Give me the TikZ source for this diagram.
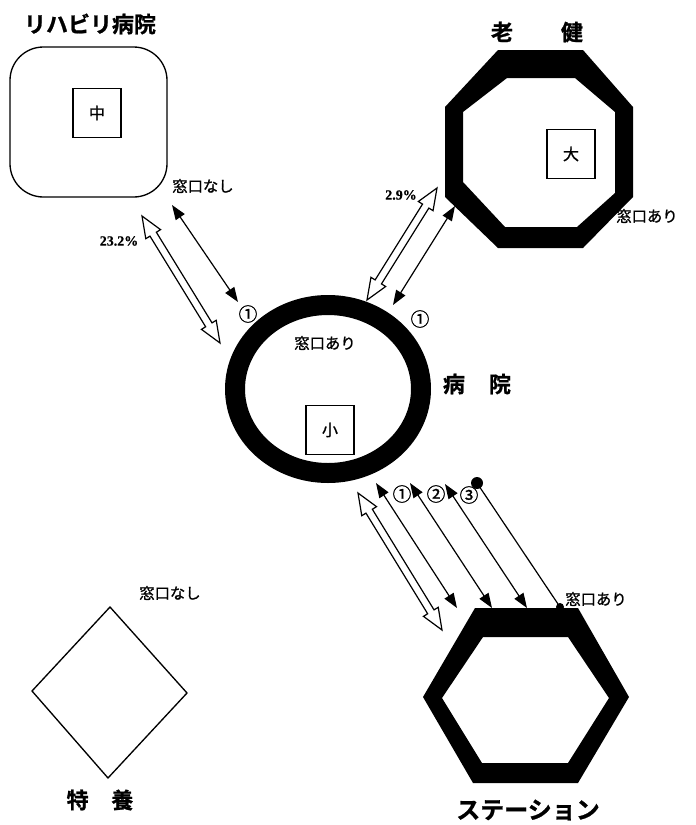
\documentclass[tikz,border=0pt]{standalone}
\usepackage{fontspec}
\newfontfamily\cjk{Noto Sans CJK JP}
\newfontfamily\cjkmid[FakeBold=1.2]{Noto Sans CJK JP}
\newfontfamily\cjkheavy[FakeBold=1.0]{Noto Sans CJK JP Bold}
\newfontfamily\serifnum[FakeBold=0.6]{Liberation Serif}
\usetikzlibrary{arrows.meta,calc}
% head length, head half width, shaft half width of the outlined double arrows
\def\ahl{16pt}
\def\ahw{6.5pt}
\def\asw{2.8pt}
\newcommand\hollowdbl[2]{%
  \draw[hollow] (#1)
    -- ($(#1)!\ahl!(#2)!\ahw!90:(#2)$)
    -- ($(#1)!\ahl!(#2)!\asw!90:(#2)$)
    -- ($(#2)!\ahl!(#1)!\asw!-90:(#1)$)
    -- ($(#2)!\ahl!(#1)!\ahw!-90:(#1)$)
    -- (#2)
    -- ($(#2)!\ahl!(#1)!\ahw!90:(#1)$)
    -- ($(#2)!\ahl!(#1)!\asw!90:(#1)$)
    -- ($(#1)!\ahl!(#2)!\asw!-90:(#2)$)
    -- ($(#1)!\ahl!(#2)!\ahw!-90:(#2)$)
    -- cycle;}
\begin{document}
\begin{tikzpicture}[x=0.75pt,y=-0.75pt,
  lbl/.style={font=\cjkmid\fontsize{11.5}{12}\selectfont, inner sep=0pt},
  title/.style={font=\cjkheavy\fontsize{16.5}{18}\selectfont, inner sep=0pt},
  pct/.style={font=\serifnum\bfseries\fontsize{10.5}{11}\selectfont, inner sep=0pt},
  num/.style={font=\cjkmid\fontsize{14}{14}\selectfont, inner sep=0pt},
  sizebox/.style={draw, line width=0.9pt, minimum width=36pt, minimum height=37pt,
    inner sep=0pt, font=\cjkmid\fontsize{12}{12}\selectfont},
  thin/.style={line width=0.9pt,
    {Triangle[length=11pt,width=8pt]}-{Triangle[length=11pt,width=8pt]}},
  hollow/.style={line width=0.9pt, fill=white, line join=miter},
  ring/.style={fill=black, even odd rule},
]
\useasboundingbox (0,0) rectangle (696,825);

% ---- facilities ----
% rehabilitation hospital: rounded square
\draw[line width=1pt, rounded corners=25pt] (10,47) rectangle (167,197);
\node[sizebox] (naka) at (97,113) {中};
\node[title] (rehabT) at (90,24) {リハビリ病院};
\node[lbl] (rehabW) at (203,186) {窓口なし};

% geriatric health facility: thick octagon
\fill[ring] (498,50) -- (583,50) -- (633,107) -- (633,197) -- (583,248) -- (498,248)
  -- (445,197) -- (445,107) -- cycle
  (507,78) -- (575,78) -- (615,112) -- (615,193) -- (577,227) -- (505,227)
  -- (463,182) -- (463,112) -- cycle;
\node[sizebox] (dai) at (571,154) {大};
\node[title] (rokenT) at (537,32) {老\hspace{36pt}健};
\node[lbl] (rokenW) at (647,216) {窓口あり};

% hospital: thick ring
\fill[ring] (328,389) circle[x radius=103, y radius=94]
  (328,389) circle[x radius=83, y radius=74];
\node[sizebox] (sho) at (330,430) {小};
\node[lbl] (hospW) at (325,343) {窓口あり};
\node[title] (hospT) at (477,384) {病\hspace{18pt}院};

% visiting nursing station: thick hexagon
\fill[ring] (475,608) -- (578,608) -- (629,697) -- (578,783) -- (473,783) -- (423,697) -- cycle
  (483,637) -- (568,637) -- (609,698) -- (568,763) -- (482,763) -- (442,698) -- cycle;
\node[title, font=\cjkheavy\fontsize{18}{20}\selectfont] (statT) at (528,810) {ステーション};
\node[lbl] (statW) at (596,599) {窓口あり};

% special nursing home: diamond
\draw[line width=1pt] (110,607) -- (187,693) -- (108,778) -- (32,691) -- cycle;
\node[lbl] (tokuW) at (170,593) {窓口なし};
\node[title] (tokuT) at (100,800) {特\hspace{17pt}養};

% ---- connector end points ----
\coordinate (lA1) at (172,205);  \coordinate (lA2) at (238,302);
\coordinate (lH1) at (142,216);  \coordinate (lH2) at (220,343);
\coordinate (rA1) at (455,206);  \coordinate (rA2) at (393,305);
\coordinate (rH1) at (437,188);  \coordinate (rH2) at (367,300);
\coordinate (bH1) at (358,493);  \coordinate (bH2) at (442,630);
\coordinate (b1a) at (376,483);  \coordinate (b1b) at (457,608);
\coordinate (b2a) at (410,483);  \coordinate (b2b) at (492,608);
\coordinate (b3a) at (445,484);  \coordinate (b3b) at (527,608);
\coordinate (d3a) at (477,483);  \coordinate (d3b) at (560,607);

% ---- connectors ----
\hollowdbl{lH1}{lH2}
\draw[thin] (lA1) -- (lA2);
\hollowdbl{rH1}{rH2}
\draw[thin] (rA1) -- (rA2);
\hollowdbl{bH1}{bH2}
\draw[thin] (b1a) -- (b1b);
\draw[thin] (b2a) -- (b2b);
\draw[thin] (b3a) -- (b3b);
\draw[line width=0.9pt] (d3a) -- (d3b);
\fill (d3a) circle[radius=6];
\fill (d3b) circle[radius=4];

% ---- connector labels ----
\node[pct] (p23) at (119,241) {23.2\%};
\node[pct] (p29) at (401,195) {2.9\%};
\node[num] (n1l) at (248,314) {①};
\node[num] (n1r) at (420,319) {①};
\node[num] (n1b) at (402,494) {①};
\node[num] (n2b) at (436,494) {②};
\node[num] (n3b) at (469,495) {③};
\end{tikzpicture}
\end{document}
